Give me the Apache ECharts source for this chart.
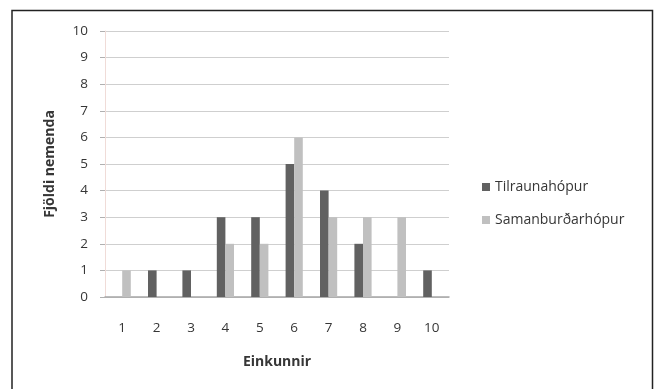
<!DOCTYPE html>
<html>
<head>
<meta charset="utf-8">
<script src="https://cdn.jsdelivr.net/npm/echarts@6/dist/echarts.min.js"></script>
<style>
  html, body { margin: 0; padding: 0; background: #fff; }
  #chart { width: 658px; height: 389px; }
</style>
</head>
<body>
<div id="chart"></div>
<script>
// Einkunnadreifing tveggja hópa
const categories = ['1', '2', '3', '4', '5', '6', '7', '8', '9', '10'];
const tilraunahopur = [0, 1, 1, 3, 3, 5, 4, 2, 0, 1];
const samanburdarhopur = [1, 0, 0, 2, 2, 6, 3, 3, 3, 0];
const seriesNames = ['Tilraunahópur', 'Samanburðarhópur'];

const FONT = '"Open Sans", Lato, sans-serif';
const TEXT = '#363636';

const chart = echarts.init(document.getElementById('chart'), null, { renderer: 'canvas' });

chart.setOption({
  animation: false,
  backgroundColor: '#fff',
  textStyle: { fontFamily: FONT },
  graphic: [{
    type: 'polyline',
    shape: { points: [[12, 400], [12, 10.5], [652.5, 10.5], [652.5, 400]] },
    style: { stroke: '#222', lineWidth: 1.5, fill: null },
    silent: true
  }],
  grid: { left: 105, top: 31, width: 344, height: 266, containLabel: false },
  legend: {
    orient: 'vertical',
    left: 477,
    top: 175,
    itemWidth: 8,
    itemHeight: 8,
    itemGap: 19,
    icon: 'rect',
    textStyle: { fontFamily: FONT, fontSize: 14, color: TEXT, padding: [0, 0, 0, 0] },
    data: seriesNames
  },
  xAxis: {
    type: 'category',
    data: categories,
    name: 'Einkunnir',
    nameLocation: 'middle',
    nameGap: 58,
    nameTextStyle: { fontFamily: FONT, fontWeight: 'bold', fontSize: 14, color: TEXT },
    axisLine: { lineStyle: { color: '#a6a6a6', width: 1.5 } },
    axisTick: { show: false },
    axisLabel: { margin: 24, fontFamily: FONT, fontSize: 13.5, color: TEXT }
  },
  yAxis: {
    type: 'value',
    min: 0,
    max: 10,
    interval: 1,
    name: 'Fjöldi nemenda',
    nameLocation: 'middle',
    nameGap: 48,
    nameTextStyle: { fontFamily: FONT, fontWeight: 'bold', fontSize: 14, color: TEXT },
    axisLine: { show: true, lineStyle: { color: '#f0dcd8', width: 1 } },
    axisTick: { show: true, length: 5, lineStyle: { color: '#b0b0b0' } },
    axisLabel: { margin: 17, fontFamily: FONT, fontSize: 13.5, color: TEXT },
    splitLine: { lineStyle: { color: '#cfcfcf', width: 1 } }
  },
  series: [
    {
      name: seriesNames[0],
      type: 'bar',
      data: tilraunahopur,
      barGap: '0%',
      barCategoryGap: '50%',
      itemStyle: { color: '#616161' }
    },
    {
      name: seriesNames[1],
      type: 'bar',
      data: samanburdarhopur,
      barGap: '0%',
      barCategoryGap: '50%',
      itemStyle: { color: '#c0c0c0' }
    }
  ]
});
</script>
</body>
</html>
